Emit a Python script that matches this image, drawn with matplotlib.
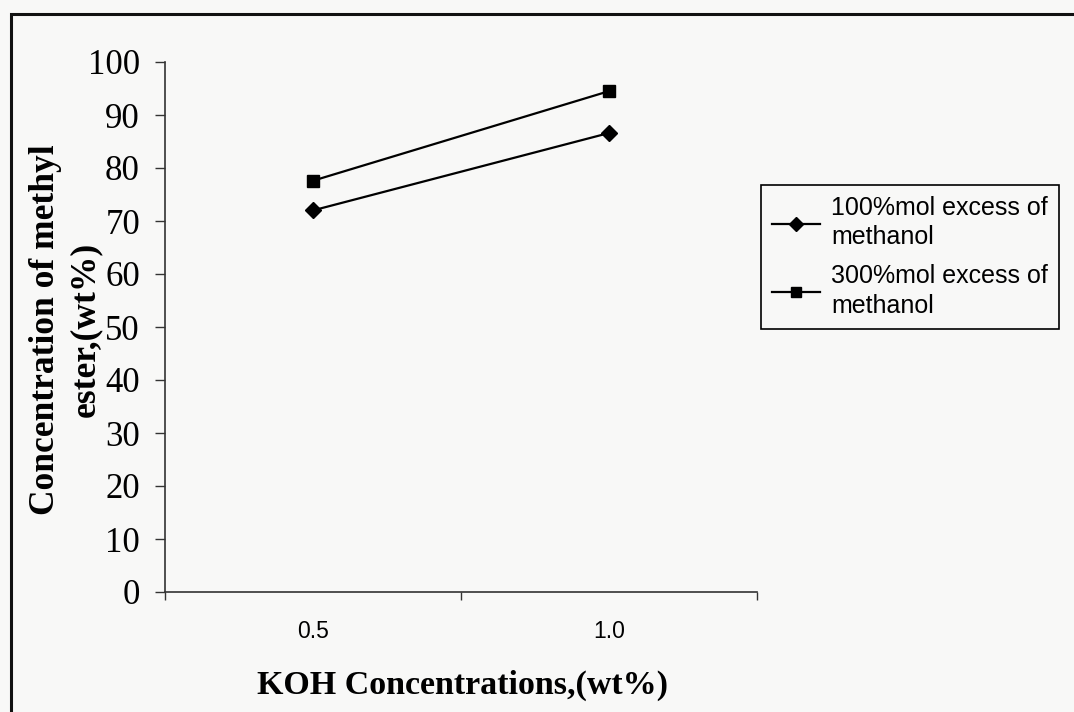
import numpy as np
from matplotlib import pyplot as plt
from matplotlib import patches

# data
koh_conc = ['0.5', '1.0']
excess_100 = [72.0, 86.6]
excess_300 = [77.6, 94.5]
series_names = ['100%mol excess of\nmethanol', '300%mol excess of\nmethanol']
y_ticks = np.arange(0, 101, 10)

bg = '#f8f8f7'
serif = ['Liberation Serif', 'DejaVu Serif']
sans = ['Liberation Sans', 'DejaVu Sans']

fig = plt.figure(figsize=(10.74, 7.12), dpi=100, facecolor=bg)
ax = fig.add_axes([165/1074, 120/712, 592/1074, 530/712], facecolor=bg)

x = np.arange(len(koh_conc)) + 0.5
ax.plot(x, excess_100, color='black', lw=1.6, marker='D', ms=8, label=series_names[0])
ax.plot(x, excess_300, color='black', lw=1.6, marker='s', ms=8, label=series_names[1])

ax.set_xlim(0, len(koh_conc))
ax.set_ylim(0, 100)

# category axis: ticks on the boundaries, labels in the middle
ax.set_xticks(np.arange(len(koh_conc) + 1))
ax.set_xticklabels([])
ax.set_xticks(x, minor=True)
ax.set_xticklabels(koh_conc, minor=True, fontfamily=sans, fontsize=16.5)
ax.tick_params(axis='x', which='major', direction='out', length=6, width=1, color='#333333')
ax.tick_params(axis='x', which='minor', length=0, pad=20)

ax.set_yticks(y_ticks)
ax.set_yticklabels([str(v) for v in y_ticks], fontfamily=serif, fontsize=25)
ax.tick_params(axis='y', direction='out', length=7, width=1, color='#333333', pad=11)

for s in ['top', 'right']:
    ax.spines[s].set_visible(False)
for s in ['left', 'bottom']:
    ax.spines[s].set_linewidth(1.2)
    ax.spines[s].set_color('#333333')

ax.set_xlabel('KOH Concentrations,(wt%)', fontfamily=serif, fontweight='bold',
              fontsize=24.5, va='center')
ax.xaxis.set_label_coords(0.502, -0.176)
ax.set_ylabel('Concentration of methyl\nester,(wt%)', fontfamily=serif, fontweight='bold',
              fontsize=25.5, va='center', multialignment='center', linespacing=1.3)
ax.yaxis.set_label_coords(-0.168, 0.495)

leg = ax.legend(loc='upper left', bbox_to_anchor=(761/1074, 1 - 185/712),
                bbox_transform=fig.transFigure, frameon=True, fancybox=False,
                edgecolor='black', facecolor=bg, framealpha=1,
                prop={'family': sans, 'size': 18}, handlelength=1.9,
                handletextpad=0.45, labelspacing=0.6, borderpad=0.45,
                borderaxespad=0, markerscale=0.9)
leg.get_frame().set_linewidth(1.2)
for t in leg.get_texts():
    t.set_linespacing(1.27)

# outer chart border (runs off the right and bottom of the scan)
fig.add_artist(patches.Rectangle((11/1074, -0.1), 1.2, 1 - 14/712 + 0.1,
                                 transform=fig.transFigure, fill=False,
                                 lw=2.2, edgecolor='#111111'))

fig.savefig('out.png', dpi=100, facecolor=bg)
